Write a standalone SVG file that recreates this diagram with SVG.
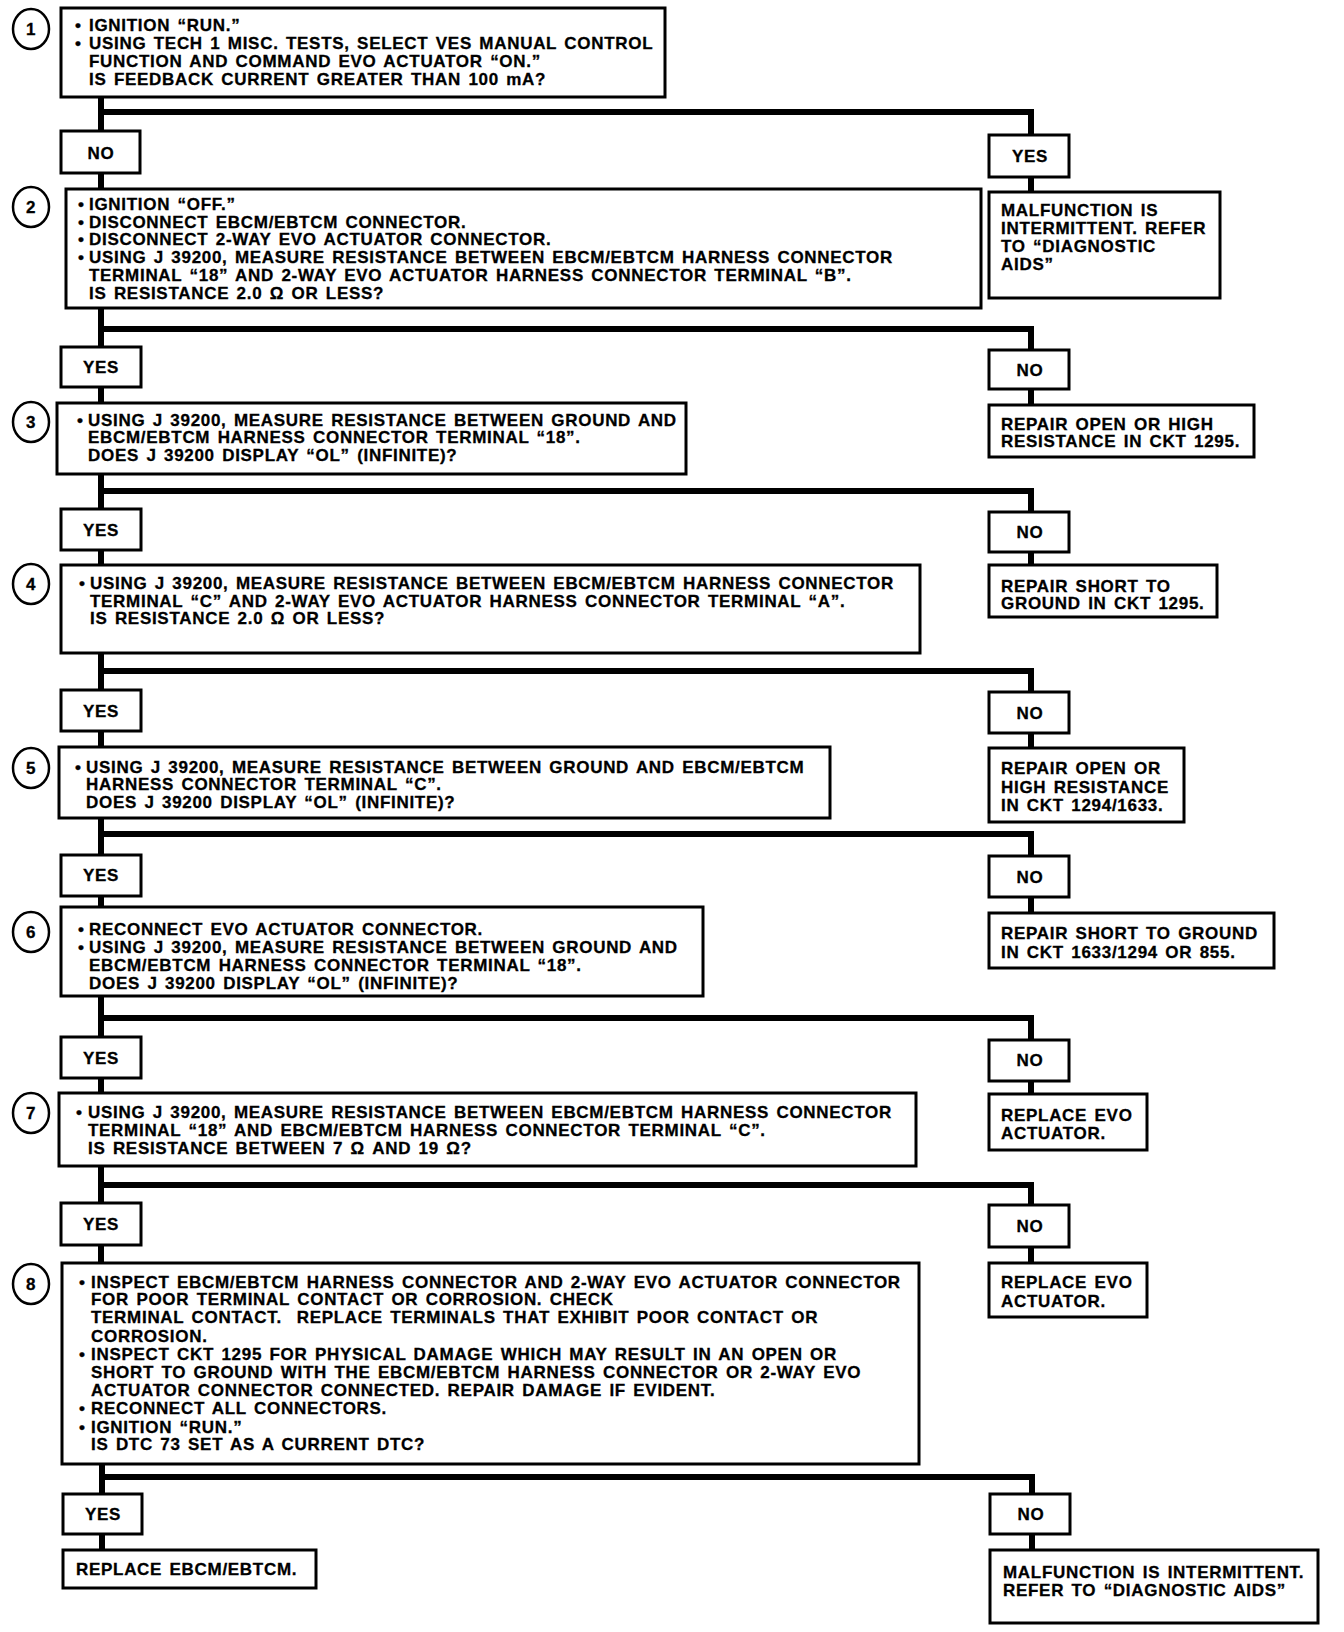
<svg xmlns="http://www.w3.org/2000/svg" width="1344" height="1632" viewBox="0 0 1344 1632">
<style>
.t{font-family:"Liberation Sans",Arial,Helvetica,sans-serif;font-weight:bold;font-size:17px;letter-spacing:0.7px;word-spacing:2px;fill:#000;stroke:#000;stroke-width:0.3px}
.c{text-anchor:middle}
.box{fill:#fff;stroke:#000;stroke-width:3}
.num{fill:#fff;stroke:#000;stroke-width:2.5}
.conn{fill:none;stroke:#000;stroke-width:6;stroke-linejoin:miter;stroke-linecap:butt}
</style>
<rect width="1344" height="1632" fill="#fff"/>
<g id="connectors">
<path class="conn" d="M101,97 V131 M101,112 H1031 V135 M1031,177 V192 M101,173 V189"/>
<path class="conn" d="M101,308 V347 M101,329 H1031 V350 M1031,389 V405 M101,387 V403"/>
<path class="conn" d="M101,474 V509 M101,491 H1031 V512 M1031,552 V565 M101,550 V565"/>
<path class="conn" d="M101,653 V690 M101,671 H1031 V692 M1031,733 V748 M101,731 V747"/>
<path class="conn" d="M101,818 V855 M101,834 H1031 V856 M1031,897 V913 M101,896 V907"/>
<path class="conn" d="M101,996 V1037 M101,1018 H1031 V1040 M1031,1081 V1094 M101,1078 V1093"/>
<path class="conn" d="M101,1166 V1203 M101,1185 H1031 V1205 M1031,1247 V1263 M101,1245 V1263"/>
<path class="conn" d="M102,1464 V1494 M102,1477 H1032 V1494 M1032,1534 V1550 M102,1534 V1550"/>
</g>

<g id="step1">
<ellipse class="num" cx="31" cy="29" rx="18" ry="20"/>
<text class="t c" x="31" y="35">1</text>
<rect class="box" x="61" y="8" width="604" height="89"/>
<text class="t"><tspan x="75" y="31">•</tspan><tspan x="89" y="31">IGNITION “RUN.”</tspan></text>
<text class="t"><tspan x="75" y="49">•</tspan><tspan x="89" y="49">USING TECH 1 MISC. TESTS, SELECT VES MANUAL CONTROL</tspan></text>
<text class="t" x="89" y="67">FUNCTION AND COMMAND EVO ACTUATOR “ON.”</text>
<text class="t" x="89" y="85">IS FEEDBACK CURRENT GREATER THAN 100 mA?</text>
</g>
<g id="no1">
<rect class="box" x="61" y="131" width="79" height="42"/>
<text class="t c" x="101" y="159">NO</text>
</g>
<g id="yes1">
<rect class="box" x="989" y="135" width="80" height="42"/>
<text class="t c" x="1030" y="162">YES</text>
</g>
<g id="result1">
<rect class="box" x="989" y="192" width="231" height="106"/>
<text class="t" x="1001" y="216">MALFUNCTION IS</text>
<text class="t" x="1001" y="234">INTERMITTENT. REFER</text>
<text class="t" x="1001" y="252">TO “DIAGNOSTIC</text>
<text class="t" x="1001" y="270">AIDS”</text>
</g>

<g id="step2">
<ellipse class="num" cx="31" cy="207" rx="18" ry="20"/>
<text class="t c" x="31" y="213">2</text>
<rect class="box" x="66" y="189" width="915" height="119"/>
<text class="t"><tspan x="78" y="210">•</tspan><tspan x="89" y="210">IGNITION “OFF.”</tspan></text>
<text class="t"><tspan x="78" y="228">•</tspan><tspan x="89" y="228">DISCONNECT EBCM/EBTCM CONNECTOR.</tspan></text>
<text class="t"><tspan x="78" y="245">•</tspan><tspan x="89" y="245">DISCONNECT 2-WAY EVO ACTUATOR CONNECTOR.</tspan></text>
<text class="t"><tspan x="78" y="263">•</tspan><tspan x="89" y="263">USING J 39200, MEASURE RESISTANCE BETWEEN EBCM/EBTCM HARNESS CONNECTOR</tspan></text>
<text class="t" x="89" y="281">TERMINAL “18” AND 2-WAY EVO ACTUATOR HARNESS CONNECTOR TERMINAL “B”.</text>
<text class="t" x="89" y="299">IS RESISTANCE 2.0 Ω OR LESS?</text>
</g>
<g id="yes2">
<rect class="box" x="61" y="347" width="80" height="40"/>
<text class="t c" x="101" y="373">YES</text>
</g>
<g id="no2">
<rect class="box" x="989" y="350" width="80" height="39"/>
<text class="t c" x="1030" y="376">NO</text>
</g>
<g id="result2">
<rect class="box" x="989" y="405" width="265" height="52"/>
<text class="t" x="1001" y="430">REPAIR OPEN OR HIGH</text>
<text class="t" x="1001" y="447">RESISTANCE IN CKT 1295.</text>
</g>

<g id="step3">
<ellipse class="num" cx="31" cy="422" rx="18" ry="20"/>
<text class="t c" x="31" y="428">3</text>
<rect class="box" x="57" y="403" width="629" height="71"/>
<text class="t"><tspan x="77" y="426">•</tspan><tspan x="88" y="426">USING J 39200, MEASURE RESISTANCE BETWEEN GROUND AND</tspan></text>
<text class="t" x="88" y="443">EBCM/EBTCM HARNESS CONNECTOR TERMINAL “18”.</text>
<text class="t" x="88" y="461">DOES J 39200 DISPLAY “OL” (INFINITE)?</text>
</g>
<g id="yes3">
<rect class="box" x="61" y="509" width="80" height="41"/>
<text class="t c" x="101" y="536">YES</text>
</g>
<g id="no3">
<rect class="box" x="989" y="512" width="80" height="40"/>
<text class="t c" x="1030" y="538">NO</text>
</g>
<g id="result3">
<rect class="box" x="989" y="565" width="228" height="52"/>
<text class="t" x="1001" y="592">REPAIR SHORT TO</text>
<text class="t" x="1001" y="609">GROUND IN CKT 1295.</text>
</g>

<g id="step4">
<ellipse class="num" cx="31" cy="584" rx="18" ry="20"/>
<text class="t c" x="31" y="590">4</text>
<rect class="box" x="61" y="565" width="859" height="88"/>
<text class="t"><tspan x="79" y="589">•</tspan><tspan x="90" y="589">USING J 39200, MEASURE RESISTANCE BETWEEN EBCM/EBTCM HARNESS CONNECTOR</tspan></text>
<text class="t" x="90" y="607">TERMINAL “C” AND 2-WAY EVO ACTUATOR HARNESS CONNECTOR TERMINAL “A”.</text>
<text class="t" x="90" y="624">IS RESISTANCE 2.0 Ω OR LESS?</text>
</g>
<g id="yes4">
<rect class="box" x="61" y="690" width="80" height="41"/>
<text class="t c" x="101" y="717">YES</text>
</g>
<g id="no4">
<rect class="box" x="989" y="692" width="80" height="41"/>
<text class="t c" x="1030" y="719">NO</text>
</g>
<g id="result4">
<rect class="box" x="989" y="748" width="195" height="74"/>
<text class="t" x="1001" y="774">REPAIR OPEN OR</text>
<text class="t" x="1001" y="793">HIGH RESISTANCE</text>
<text class="t" x="1001" y="811">IN CKT 1294/1633.</text>
</g>

<g id="step5">
<ellipse class="num" cx="31" cy="768" rx="18" ry="20"/>
<text class="t c" x="31" y="774">5</text>
<rect class="box" x="59" y="747" width="771" height="71"/>
<text class="t"><tspan x="75" y="773">•</tspan><tspan x="86" y="773">USING J 39200, MEASURE RESISTANCE BETWEEN GROUND AND EBCM/EBTCM</tspan></text>
<text class="t" x="86" y="790">HARNESS CONNECTOR TERMINAL “C”.</text>
<text class="t" x="86" y="808">DOES J 39200 DISPLAY “OL” (INFINITE)?</text>
</g>
<g id="yes5">
<rect class="box" x="61" y="855" width="80" height="41"/>
<text class="t c" x="101" y="881">YES</text>
</g>
<g id="no5">
<rect class="box" x="989" y="856" width="80" height="41"/>
<text class="t c" x="1030" y="883">NO</text>
</g>
<g id="result5">
<rect class="box" x="989" y="913" width="285" height="55"/>
<text class="t" x="1001" y="939">REPAIR SHORT TO GROUND</text>
<text class="t" x="1001" y="958">IN CKT 1633/1294 OR 855.</text>
</g>

<g id="step6">
<ellipse class="num" cx="31" cy="932" rx="18" ry="20"/>
<text class="t c" x="31" y="938">6</text>
<rect class="box" x="61" y="907" width="642" height="89"/>
<text class="t"><tspan x="78" y="935">•</tspan><tspan x="89" y="935">RECONNECT EVO ACTUATOR CONNECTOR.</tspan></text>
<text class="t"><tspan x="78" y="953">•</tspan><tspan x="89" y="953">USING J 39200, MEASURE RESISTANCE BETWEEN GROUND AND</tspan></text>
<text class="t" x="89" y="971">EBCM/EBTCM HARNESS CONNECTOR TERMINAL “18”.</text>
<text class="t" x="89" y="989">DOES J 39200 DISPLAY “OL” (INFINITE)?</text>
</g>
<g id="yes6">
<rect class="box" x="61" y="1037" width="80" height="41"/>
<text class="t c" x="101" y="1064">YES</text>
</g>
<g id="no6">
<rect class="box" x="989" y="1040" width="80" height="41"/>
<text class="t c" x="1030" y="1066">NO</text>
</g>
<g id="result6">
<rect class="box" x="989" y="1094" width="158" height="56"/>
<text class="t" x="1001" y="1121">REPLACE EVO</text>
<text class="t" x="1001" y="1139">ACTUATOR.</text>
</g>

<g id="step7">
<ellipse class="num" cx="31" cy="1113" rx="18" ry="20"/>
<text class="t c" x="31" y="1119">7</text>
<rect class="box" x="59" y="1093" width="857" height="73"/>
<text class="t"><tspan x="76" y="1118">•</tspan><tspan x="88" y="1118">USING J 39200, MEASURE RESISTANCE BETWEEN EBCM/EBTCM HARNESS CONNECTOR</tspan></text>
<text class="t" x="88" y="1136">TERMINAL “18” AND EBCM/EBTCM HARNESS CONNECTOR TERMINAL “C”.</text>
<text class="t" x="88" y="1154">IS RESISTANCE BETWEEN 7 Ω AND 19 Ω?</text>
</g>
<g id="yes7">
<rect class="box" x="61" y="1203" width="80" height="42"/>
<text class="t c" x="101" y="1230">YES</text>
</g>
<g id="no7">
<rect class="box" x="989" y="1205" width="80" height="42"/>
<text class="t c" x="1030" y="1232">NO</text>
</g>
<g id="result7">
<rect class="box" x="989" y="1263" width="158" height="54"/>
<text class="t" x="1001" y="1288">REPLACE EVO</text>
<text class="t" x="1001" y="1307">ACTUATOR.</text>
</g>

<g id="step8">
<ellipse class="num" cx="31" cy="1284" rx="18" ry="20"/>
<text class="t c" x="31" y="1290">8</text>
<rect class="box" x="62" y="1263" width="857" height="201"/>
<text class="t"><tspan x="79" y="1288">•</tspan><tspan x="91" y="1288">INSPECT EBCM/EBTCM HARNESS CONNECTOR AND 2-WAY EVO ACTUATOR CONNECTOR</tspan></text>
<text class="t" x="91" y="1305">FOR POOR TERMINAL CONTACT OR CORROSION. CHECK</text>
<text class="t" x="91" y="1323" style="white-space:pre">TERMINAL CONTACT.  REPLACE TERMINALS THAT EXHIBIT POOR CONTACT OR</text>
<text class="t" x="91" y="1342">CORROSION.</text>
<text class="t"><tspan x="79" y="1360">•</tspan><tspan x="91" y="1360">INSPECT CKT 1295 FOR PHYSICAL DAMAGE WHICH MAY RESULT IN AN OPEN OR</tspan></text>
<text class="t" x="91" y="1378">SHORT TO GROUND WITH THE EBCM/EBTCM HARNESS CONNECTOR OR 2-WAY EVO</text>
<text class="t" x="91" y="1396">ACTUATOR CONNECTOR CONNECTED. REPAIR DAMAGE IF EVIDENT.</text>
<text class="t"><tspan x="79" y="1414">•</tspan><tspan x="91" y="1414">RECONNECT ALL CONNECTORS.</tspan></text>
<text class="t"><tspan x="79" y="1433">•</tspan><tspan x="91" y="1433">IGNITION “RUN.”</tspan></text>
<text class="t" x="91" y="1450">IS DTC 73 SET AS A CURRENT DTC?</text>
</g>
<g id="yes8">
<rect class="box" x="63" y="1494" width="79" height="40"/>
<text class="t c" x="103" y="1520">YES</text>
</g>
<g id="no8">
<rect class="box" x="990" y="1494" width="80" height="40"/>
<text class="t c" x="1031" y="1520">NO</text>
</g>
<g id="result8a">
<rect class="box" x="63" y="1550" width="253" height="38"/>
<text class="t" x="76" y="1575">REPLACE EBCM/EBTCM.</text>
</g>
<g id="result8b">
<rect class="box" x="990" y="1550" width="328" height="73"/>
<text class="t" x="1003" y="1578">MALFUNCTION IS INTERMITTENT.</text>
<text class="t" x="1003" y="1596">REFER TO “DIAGNOSTIC AIDS”</text>
</g>
</svg>
